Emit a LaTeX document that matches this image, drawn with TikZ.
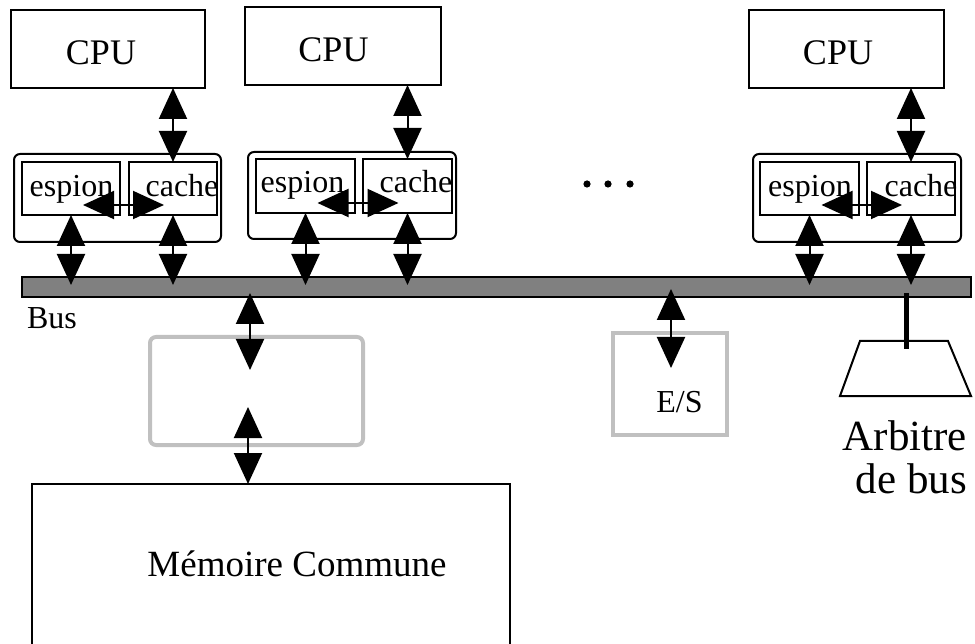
\documentclass[tikz,border=0pt]{standalone}
\usepackage{fontspec}
\setmainfont{Liberation Serif}
\usetikzlibrary{arrows.meta,calc}
\definecolor{busgray}{RGB}{128,128,128}
\definecolor{lightgr}{RGB}{192,192,192}
\begin{document}
\begin{tikzpicture}[x=1pt,y=-1pt,
  box/.style={draw=black,line width=2pt,inner sep=0pt,outer sep=0pt,fill=white},
  outerbox/.style={box,rounded corners=6pt},
  graybox/.style={draw=lightgr,line width=4pt,inner sep=0pt,outer sep=0pt},
  dbl/.style={line width=2pt,{Triangle[length=31pt,width=28pt]}-{Triangle[length=31pt,width=28pt]}},
  cputxt/.style={anchor=base,inner sep=0pt,font=\fontsize{36}{36}\selectfont},
  smtxt/.style={anchor=base,inner sep=0pt,font=\fontsize{32}{32}\selectfont},
  bigtxt/.style={anchor=base east,inner sep=0pt,font=\fontsize{43}{43}\selectfont}]
\useasboundingbox (0,0) rectangle (975,644);
\clip (0,0) rectangle (975,644);

% CPUs
\node[box,minimum width=194pt,minimum height=78pt] (cpu1) at (108,49) {};
\node[box,minimum width=196pt,minimum height=78pt] (cpu2) at (343,46) {};
\node[box,minimum width=195pt,minimum height=78pt] (cpu3) at (846.5,49) {};
\node[cputxt] (cpu1t) at (101,65) {CPU};
\node[cputxt] (cpu2t) at (333.5,62) {CPU};
\node[cputxt] (cpu3t) at (838,65) {CPU};

% cache modules
\node[outerbox,minimum width=207pt,minimum height=88pt] (o1) at (117.5,198) {};
\node[outerbox,minimum width=208pt,minimum height=87pt] (o2) at (352,195.5) {};
\node[outerbox,minimum width=208pt,minimum height=88pt] (o3) at (857,198) {};
\node[box,minimum width=98pt,minimum height=53pt] (e1) at (71,188.5) {};
\node[box,minimum width=88pt,minimum height=53pt] (c1) at (173,188.5) {};
\node[box,minimum width=99pt,minimum height=54pt] (e2) at (305.5,186) {};
\node[box,minimum width=89pt,minimum height=54pt] (c2) at (407.5,186) {};
\node[box,minimum width=99pt,minimum height=53pt] (e3) at (809.5,188.5) {};
\node[box,minimum width=88pt,minimum height=53pt] (c3) at (911,188.5) {};
\node[smtxt] (e1t) at (71.5,197) {espion};
\node[smtxt] (c1t) at (182,197) {cache};
\node[smtxt] (e2t) at (302.5,193) {espion};
\node[smtxt] (c2t) at (416,193) {cache};
\node[smtxt] (e3t) at (810,197) {espion};
\node[smtxt] (c3t) at (921,197) {cache};

% bus
\node[box,fill=busgray,minimum width=949pt,minimum height=20pt] (bus) at (496.5,287) {};
\node[smtxt] (bust) at (52,329) {Bus};

% arrows of the modules
\foreach \i in {1,2,3}{
  \draw[dbl] (cpu\i.south -| c\i.north) -- (c\i.north);
  \draw[dbl] ([shift={(12,-10)}]e\i.south) -- ([shift={(-9,-10)}]c\i.south);
  \draw[dbl] (e\i.south) -- ([yshift=2pt]e\i.south |- bus.center);
  \draw[dbl] (c\i.south) -- ([yshift=2pt]c\i.south |- bus.center);
}

% dots
\fill (587,184) circle (3.6pt) (608,184) circle (3.6pt) (630,184) circle (3.6pt);

% grey box and memory
\node[graybox,rounded corners=6pt,minimum width=213pt,minimum height=108pt] (gbox) at (256.5,391) {};
\node[box,minimum width=478pt,minimum height=276pt] (mem) at (271,622) {};
\node[anchor=base,inner sep=0pt,font=\fontsize{37}{37}\selectfont] (memt) at (297,576) {Mémoire Commune};
\coordinate (ma) at (250,293);
\coordinate (mb) at (250,370);
\coordinate (mc) at (248,407);
\draw[dbl] (ma) -- (mb);
\draw[dbl] (mc) -- (mc |- mem.north);

% E/S
\node[graybox,minimum width=114pt,minimum height=102pt] (es) at (670,384) {};
\node[smtxt] (est) at (679.5,412) {E/S};
\coordinate (esa) at (671,289);
\coordinate (esb) at (671,368);
\draw[dbl] (esa) -- (esb);

% arbiter
\coordinate (arbtop) at (906,349);
\draw[line width=5pt] (arbtop |- ma) -- (arbtop);
\draw[line width=2pt,line join=miter] (860,341) -- (948,341) -- (971,396) -- (840,396) -- cycle;
\node[bigtxt] (arb1) at (967,450) {Arbitre};
\node[bigtxt] (arb2) at (967,493) {de bus};
\end{tikzpicture}
\end{document}
